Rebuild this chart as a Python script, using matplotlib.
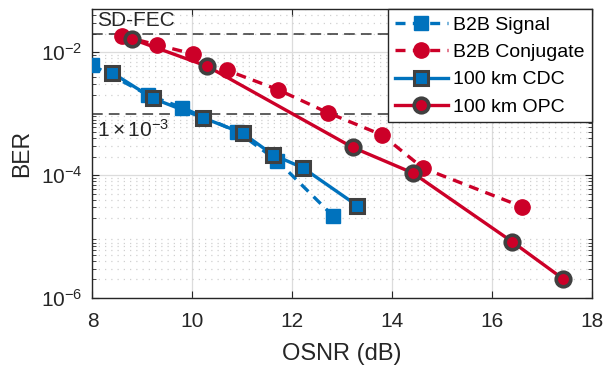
import numpy as np
import matplotlib
matplotlib.use('Agg')
import matplotlib.pyplot as plt
from matplotlib.ticker import LogLocator, NullFormatter, MultipleLocator

plt.rcParams['font.family'] = ['Liberation Sans', 'DejaVu Sans']
plt.rcParams['mathtext.fontset'] = 'custom'
plt.rcParams['mathtext.rm'] = 'Liberation Sans'
plt.rcParams['mathtext.it'] = 'Liberation Sans'

# data
osnr_b2b_sig = [8.0, 9.12, 9.8, 10.9, 11.7, 12.81]
ber_b2b_sig = [6.1e-3, 2.0e-3, 1.25e-3, 5.1e-4, 1.72e-4, 2.2e-5]

osnr_b2b_conj = [8.59, 9.3, 10.01, 10.7, 11.71, 12.71, 13.8, 14.62, 16.61]
ber_b2b_conj = [1.85e-2, 1.31e-2, 9.4e-3, 5.05e-3, 2.47e-3, 1.04e-3, 4.5e-4, 1.3e-4, 3.05e-5]

osnr_cdc = [8.4, 9.21, 10.21, 11.01, 11.61, 12.21, 13.3]
ber_cdc = [4.6e-3, 1.77e-3, 8.6e-4, 4.8e-4, 2.15e-4, 1.32e-4, 3.2e-5]

osnr_opc = [8.79, 10.3, 13.21, 14.42, 16.41, 17.43]
ber_opc = [1.64e-2, 5.9e-3, 2.83e-4, 1.08e-4, 8.2e-6, 2.04e-6]

sd_fec = 2e-2
hd_fec = 1e-3

blue = '#0072BD'
red = '#CC0028'
edge = '#404040'
txt = '#262626'

fig = plt.figure(figsize=(6.14, 3.70), dpi=100)
ax = fig.add_axes([0.1506, 0.1946, 0.8131, 0.7804])

# FEC thresholds
ax.axhline(sd_fec, color='#333333', lw=1.1, ls=(0, (7, 4)), zorder=2)
ax.axhline(hd_fec, color='#333333', lw=1.1, ls=(0, (7, 4)), zorder=2)

ax.plot(osnr_b2b_sig, ber_b2b_sig, color=blue, lw=2.4, ls=(0, (3, 2.2)),
        marker='s', ms=10, mec=blue, mfc=blue, label='B2B Signal', zorder=3)
ax.plot(osnr_b2b_conj, ber_b2b_conj, color=red, lw=2.4, ls=(0, (3, 2.2)),
        marker='o', ms=11, mec=red, mfc=red, label='B2B Conjugate', zorder=3)
ax.plot(osnr_cdc, ber_cdc, color=blue, lw=2.4,
        marker='s', ms=10, mec=edge, mew=2.2, mfc=blue, label='100 km CDC', zorder=4)
ax.plot(osnr_opc, ber_opc, color=red, lw=2.4,
        marker='o', ms=10.5, mec=edge, mew=2.6, mfc=red, label='100 km OPC', zorder=4)

ax.set_yscale('log')
ax.set_xlim(8, 18)
ax.set_ylim(1e-6, 5e-2)
ax.xaxis.set_major_locator(MultipleLocator(2))
ax.set_yticks([1e-6, 1e-4, 1e-2])
ax.yaxis.set_minor_locator(LogLocator(base=10, subs=np.arange(2, 10), numticks=20))
ax.yaxis.set_minor_formatter(NullFormatter())
ax.set_yticklabels([r'$10^{-6}$', r'$10^{-4}$', r'$10^{-2}$'])

ax.grid(True, which='major', color='#dcdcdc', lw=0.9, ls='-', zorder=0)
ax.grid(True, which='minor', axis='y', color='#d0d0d0', lw=0.9, ls=(0, (1, 4)), zorder=0)
ax.set_axisbelow(True)

ax.tick_params(which='both', direction='in', top=True, right=True, labelsize=15, colors=txt)
ax.tick_params(which='major', length=5)
ax.tick_params(which='minor', length=3)
ax.tick_params(axis='x', pad=10)
ax.tick_params(axis='y', pad=7)
for s in ax.spines.values():
    s.set_color(txt)
    s.set_linewidth(1.0)

ax.set_xlabel('OSNR (dB)', fontsize=17, color=txt, labelpad=9)
ax.set_ylabel('BER', fontsize=16.5, color=txt, labelpad=6)

ax.text(8.1, 2.3e-2, 'SD-FEC', fontsize=15, color=txt, va='bottom', ha='left')
ax.text(8.1, 8.3e-4, r'$1\times10^{-3}$', fontsize=15, color=txt, va='top', ha='left')

leg = ax.legend(loc='upper right', fontsize=14, frameon=True, fancybox=False,
                edgecolor=txt, framealpha=1, borderaxespad=0, handlelength=2.7,
                labelspacing=0.5, borderpad=0.35, handletextpad=0.3)
leg.get_frame().set_linewidth(1.0)

fig.savefig('out.png', dpi=100)
